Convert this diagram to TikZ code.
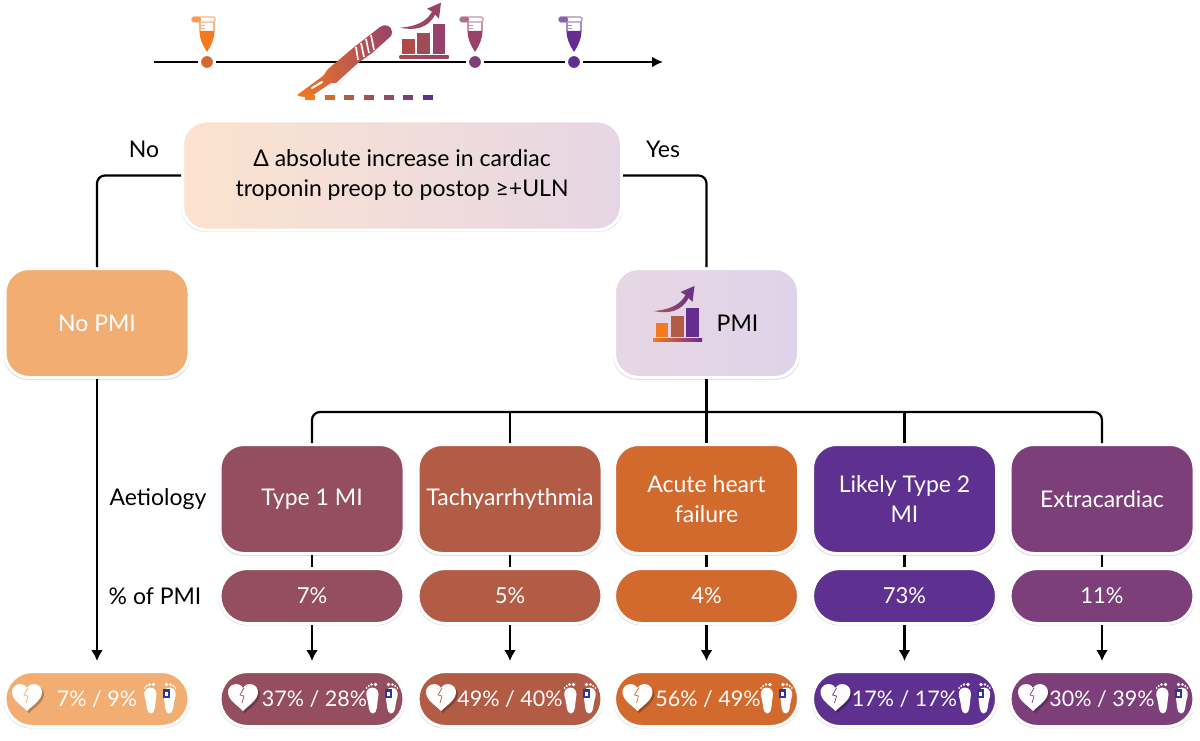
\documentclass[tikz,border=0pt]{standalone}
\usepackage{fontspec}
\setmainfont{Lato}
\usetikzlibrary{arrows.meta,shadows}

\definecolor{peachtone}{HTML}{F2AE72}
\definecolor{typeonetone}{HTML}{954D60}
\definecolor{tachytone}{HTML}{B25B45}
\definecolor{failuretone}{HTML}{D26A2E}
\definecolor{typetwotone}{HTML}{5E3190}
\definecolor{extratone}{HTML}{7D3F7A}
\definecolor{tagtone}{HTML}{2B3A9A}
\definecolor{brightorange}{HTML}{F47A1F}
\definecolor{pinkplum}{HTML}{98416B}
\definecolor{deepviolet}{HTML}{662D91}
\definecolor{redbrick}{HTML}{B04A4A}
\definecolor{troplight}{HTML}{FCE3CF}
\definecolor{tropdark}{HTML}{E6D6E5}
\definecolor{pmilight}{HTML}{E6D7E4}
\definecolor{pmidark}{HTML}{DFD3E9}

\tikzset{
  softshadow/.style={drop shadow={shadow xshift=0pt,shadow yshift=-1.5pt,shadow scale=1.015,fill=black,opacity=.14}},
  bigbox/.style={draw=white,line width=3pt,rounded corners=24pt,
    minimum width=184pt,minimum height=109pt,align=center,inner sep=0pt,
    font=\fontsize{23}{30}\selectfont},
  colbox/.style={bigbox,softshadow},
  tropbox/.style={bigbox,minimum width=439pt,
    drop shadow={shadow xshift=0pt,shadow yshift=-1.5pt,shadow scale=1.006,fill=black,opacity=.14}},
  pctpill/.style={draw=white,line width=3pt,rounded corners=27.4pt,softshadow,text=white,
    minimum width=184pt,minimum height=55pt,inner sep=0pt,font=\fontsize{22}{26}\selectfont},
  outpill/.style={pctpill,font=\fontsize{21.5}{26}\selectfont},
  plaintext/.style={inner sep=0pt,font=\fontsize{23}{28}\selectfont},
  link/.style={line width=2.2pt,black},
  linkround/.style={link,rounded corners=8pt},
  linkarrow/.style={link,-{Latex[length=11pt,width=12pt]},shorten >=9pt},
  timedot/.style={circle,draw=white,line width=3pt,minimum size=15pt,inner sep=0pt,
    drop shadow={shadow xshift=.5pt,shadow yshift=-1pt,fill=black,opacity=.15}},
  pics/tube/.style={code={
    \draw[#1!55!white,line width=1.4pt,fill=white,rounded corners=1.5pt] (-15,-18) rectangle (8,-13);
    \fill[#1!75!white,rounded corners=1.5pt] (-15,-18) rectangle (-6,-13);
    \draw[#1!55!white,line width=1.1pt] (-7,-13) -- (-7,-4) (7,-13) -- (7,-4);
    \draw[#1!55!white,line width=.8pt] (-7,-10) -- (-2,-10) (-7,-7) -- (-2,-7);
    \fill[#1] (-7.5,-4) -- (7.5,-4) .. controls (7.5,5) and (2.5,13) .. (0,17)
      .. controls (-2.5,13) and (-7.5,5) .. (-7.5,-4) -- cycle;
  }},
  pics/chart/.style n args={3}{code={
    \shade[left color=#1,right color=#3] (-24.5,-1.5) rectangle (24.5,1.5);
    \fill[#1] (-22,-17.5) rectangle (-9.5,-3);
    \fill[#2] (-7,-24) rectangle (6,-3);
    \fill[#3] (8.5,-32.5) rectangle (21,-3);
    \shade[left color=#2,right color=#3] (-24,-29) .. controls (-10,-30) and (2,-34) .. (8,-45) -- (3,-48) -- (17,-54)
      -- (15,-38) -- (11,-42) .. controls (4,-28) and (-10,-26) .. (-24,-29) -- cycle;
  }},
  pics/heart/.style={code={
    \fill[black,opacity=.25,shift={(2,2)}] (0,14) .. controls (-6,8) and (-15,3) .. (-15,-5)
      .. controls (-15,-13) and (-4,-16) .. (0,-9) .. controls (4,-16) and (15,-13) .. (15,-5)
      .. controls (15,3) and (6,8) .. (0,14) -- cycle;
    \fill[white] (0,14) .. controls (-6,8) and (-15,3) .. (-15,-5)
      .. controls (-15,-13) and (-4,-16) .. (0,-9) .. controls (4,-16) and (15,-13) .. (15,-5)
      .. controls (15,3) and (6,8) .. (0,14) -- cycle;
    \draw[#1,line width=.7pt] (1,-9) -- (-3,-2) -- (1,-1) -- (-1,6);
  }},
  pics/feet/.style={code={
    \fill[white] (-9,15.5) .. controls (-14,15.5) and (-13,7) .. (-14.5,2) .. controls (-17,-4) and (-16,-10) .. (-10,-10.5)
      .. controls (-4,-10.5) and (-2.5,-5) .. (-4,0) .. controls (-5,6) and (-4.5,15.5) .. (-9,15.5) -- cycle;
    \fill[white] (9,15.5) .. controls (14,15.5) and (13,7) .. (14.5,2) .. controls (17,-4) and (16,-10) .. (10,-10.5)
      .. controls (4,-10.5) and (2.5,-5) .. (4,0) .. controls (5,6) and (4.5,15.5) .. (9,15.5) -- cycle;
    \fill[white] (-6.5,-13.5) circle (1.9) (-10.5,-13.5) circle (1.3) (-13.3,-12) circle (1.1) (-15.3,-10) circle (1);
    \fill[white] (6.5,-13.5) circle (1.9) (10.5,-13.5) circle (1.3) (13.3,-12) circle (1.1) (15.3,-10) circle (1);
    \fill[tagtone] (2.5,-9.5) rectangle (9.5,-0.5);
    \fill[white] (4.5,-6.5) rectangle (7.5,-2.5);
  }},
}

\begin{document}
\begin{tikzpicture}[x=1pt,y=-1pt]
\useasboundingbox (0,0) rectangle (1200,741);

% timeline
\coordinate (tlstart) at (154,62);
\coordinate (tlend) at (663,62);
\draw[link,-{Latex[length=11pt,width=11pt]}] (tlstart) -- (tlend);
\node[timedot,fill=failuretone] (dotone) at (207,62) {};
\node[timedot,fill=extratone] (dottwo) at (475,62) {};
\node[timedot,fill=typetwotone] (dotthree) at (574,62) {};
\pic at (207,35) {tube={brightorange}};
\pic at (475,35) {tube={pinkplum}};
\pic at (574,35) {tube={deepviolet}};
\pic at (424,56.7) {chart={redbrick}{typeonetone!60!redbrick}{pinkplum}};

% scalpel
\shade[left color=brightorange,middle color=failuretone,right color=pinkplum]
  (297,95) -- (323,76) -- (328,69) -- (353,48) -- (380,27)
  .. controls (385,23) and (392,26) .. (392,32)
  .. controls (392,35) and (391,36) .. (390,37)
  -- (372,53) -- (358,63) -- (336,83) -- (331,83) -- (310,97)
  .. controls (305,97) and (300,97) .. (297,95) -- cycle;
\draw[white,line width=2pt,line cap=round] (312,88) -- (322,82);
\draw[white,line width=1.7pt] (356,47) -- (358,60) (361,43) -- (364,57) (366,39) -- (369,53) (371,35) -- (374,50);
\fill[brightorange] (305,95.5) rectangle (315,100);
\fill[failuretone] (325,95.5) rectangle (335,100);
\fill[tachytone] (344,95.5) rectangle (354,100);
\fill[typeonetone!70!tachytone] (364,95.5) rectangle (374,100);
\fill[typeonetone] (384,95.5) rectangle (394,100);
\fill[extratone] (403,95.5) rectangle (413,100);
\fill[typetwotone] (423,95.5) rectangle (433,100);

% top of the tree
\node[tropbox,left color=troplight,right color=tropdark] (trop) at (402,175.5)
  {Δ absolute increase in cardiac\\troponin preop to postop ≥+ULN};
\node[plaintext] (nolab) at (144,149) {No};
\node[plaintext] (yeslab) at (663,149) {Yes};
\node[colbox,fill=peachtone,text=white] (nopmi) at (97,323) {No PMI};
\node[colbox,left color=pmilight,right color=pmidark] (pmi) at (706.5,323)
  {\hspace*{62pt}PMI};
\pic at (677.5,340) {chart={brightorange}{tachytone}{deepviolet}};

\draw[linkround] (trop.west) -| (nopmi.north);
\draw[linkround] (trop.east) -| (pmi.north);

% aetiology row
\node[plaintext] (aetlab) at (158,499) {Aetiology};
\node[colbox,fill=typeonetone,text=white] (typeone) at (312,499) {Type 1 MI};
\node[colbox,fill=tachytone,text=white] (tachy) at (510,499) {Tachyarrhythmia};
\node[colbox,fill=failuretone,text=white] (failure) at (706.5,499) {Acute heart\\failure};
\node[colbox,fill=typetwotone,text=white] (typetwo) at (904.5,499) {Likely Type 2\\MI};
\node[colbox,fill=extratone,text=white] (extra) at (1102,499) {Extracardiac};

\coordinate (busleft) at (312,412);
\coordinate (busright) at (1102,412);
\draw[linkround] (typeone.north) -- (busleft) -- (busright) -- (extra.north);
\draw[link] (pmi.south) -- (failure.north);
\draw[link] (tachy.north) -- (tachy.north |- busleft);
\draw[link] (typetwo.north) -- (typetwo.north |- busleft);

% percentages
\node[plaintext] (pctlab) at (155,596) {\% of PMI};
\node[pctpill,fill=typeonetone] (pctone) at (312,596) {7\%};
\node[pctpill,fill=tachytone] (pcttwo) at (510,596) {5\%};
\node[pctpill,fill=failuretone] (pctthree) at (706.5,596) {4\%};
\node[pctpill,fill=typetwotone] (pctfour) at (904.5,596) {73\%};
\node[pctpill,fill=extratone] (pctfive) at (1102,596) {11\%};

\draw[link] (typeone.south) -- (pctone.north);
\draw[link] (tachy.south) -- (pcttwo.north);
\draw[link] (failure.south) -- (pctthree.north);
\draw[link] (typetwo.south) -- (pctfour.north);
\draw[link] (extra.south) -- (pctfive.north);

% outcomes
\node[outpill,fill=peachtone] (outzero) at (97,699) {7\% / 9\%};
\node[outpill,fill=typeonetone] (outone) at (312,699) {\hspace*{5pt}37\% / 28\%};
\node[outpill,fill=tachytone] (outtwo) at (510,699) {49\% / 40\%};
\node[outpill,fill=failuretone] (outthree) at (706.5,699) {\hspace*{3pt}56\% / 49\%};
\node[outpill,fill=typetwotone] (outfour) at (904.5,699) {17\% / 17\%};
\node[outpill,fill=extratone] (outfive) at (1102,699) {30\% / 39\%};

\draw[linkarrow] (nopmi.south) -- (outzero.north);
\draw[linkarrow] (pctone.south) -- (outone.north);
\draw[linkarrow] (pcttwo.south) -- (outtwo.north);
\draw[linkarrow] (pctthree.south) -- (outthree.north);
\draw[linkarrow] (pctfour.south) -- (outfour.north);
\draw[linkarrow] (pctfive.south) -- (outfive.north);

\pic at (27,697) {heart={peachtone}};
\pic at (243,697) {heart={typeonetone}};
\pic at (441,697) {heart={tachytone}};
\pic at (637.5,697) {heart={failuretone}};
\pic at (835.5,697) {heart={typetwotone}};
\pic at (1033,697) {heart={extratone}};
\pic at (160,698) {feet};
\pic at (382,698) {feet};
\pic at (580,698) {feet};
\pic at (776.5,698) {feet};
\pic at (974.5,698) {feet};
\pic at (1172,698) {feet};
\end{tikzpicture}
\end{document}
